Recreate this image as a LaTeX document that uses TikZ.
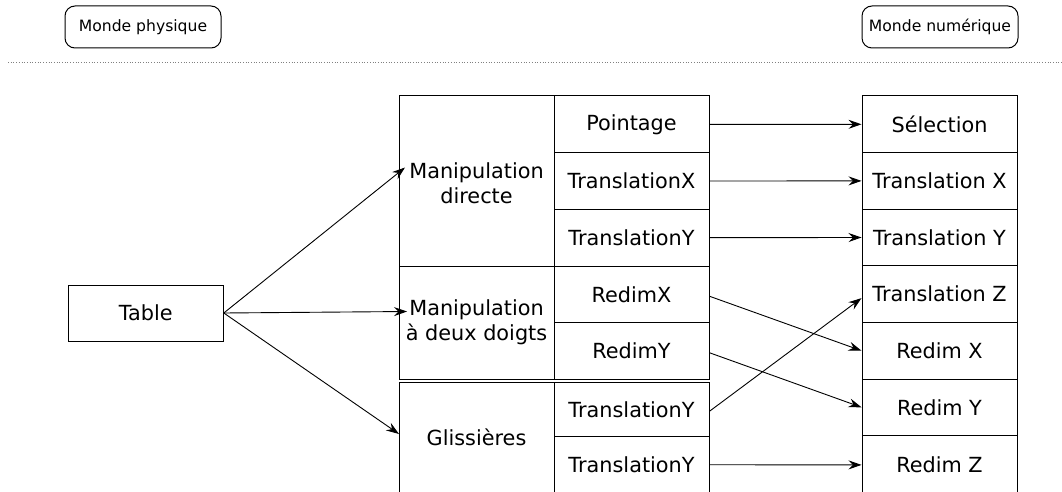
\documentclass[tikz,border=0pt]{standalone}
\usepackage{fontspec}
\setmainfont{DejaVu Sans}
\usetikzlibrary{arrows.meta}
\begin{document}
\begin{tikzpicture}[x=1pt,y=-1pt,
  cell/.style={draw, line width=1pt, minimum width=155pt, inner sep=0pt, align=center, font=\fontsize{20.8}{25}\selectfont},
  world/.style={draw, line width=1pt, rounded corners=10pt, minimum width=156pt, minimum height=42pt, inner sep=0pt, font=\fontsize{15.6}{18}\selectfont},
  link/.style={line width=0.9pt, -{Stealth[length=13pt,width=9pt,inset=4.5pt]}}]
\useasboundingbox (0,0) rectangle (1062,492);
\clip (0,0) rectangle (1062,492);
% header
\node[world] (phys) at (143,27) {Monde physique};
\node[world] (num) at (940,27) {Monde numérique};
\coordinate (sepL) at (8,62);
\coordinate (sepR) at (1062,62);
\draw[dotted, line width=0.7pt, gray] (sepL) -- (sepR);
% table
\node[cell, minimum height=56pt] (table) at (145.8,313) {Table};
% middle-left column
\node[cell, minimum height=170pt] (md) at (476.5,181) {};
\node[cell, draw=none] (mdt) at (476.5,183) {Manipulation\\directe};
\node[cell, minimum height=113pt] (m2) at (476.5,322.5) {Manipulation\\à deux doigts};
\node[cell, minimum height=110pt] (gl) at (476.5,437.5) {Glissières};
% middle-right column
\node[cell, minimum height=56.67pt] (pt) at (631.5,124.33) {Pointage};
\node[cell, minimum height=56.67pt] (tx) at (631.5,181) {TranslationX};
\node[cell, minimum height=56.67pt] (ty) at (631.5,237.67) {TranslationY};
\node[cell, minimum height=56.5pt] (rx) at (631.5,294.25) {RedimX};
\node[cell, minimum height=56.5pt] (ry) at (631.5,350.75) {RedimY};
\node[cell, minimum height=53.5pt] (ty2) at (631.5,409.25) {TranslationY};
\node[cell, minimum height=56.5pt] (ty3) at (631.5,464.25) {TranslationY};
% right column
\node[cell, minimum height=56.6pt] (sel) at (939.5,124.3) {Sélection};
\node[cell, minimum height=56.6pt] (tX) at (939.5,180.9) {Translation X};
\node[cell, minimum height=56.6pt] (tY) at (939.5,237.5) {Translation Y};
\node[cell, minimum height=56.6pt] (tZ) at (939.5,294.1) {Translation Z};
\node[cell, minimum height=56.6pt] (rX) at (939.5,350.7) {Redim X};
\node[cell, minimum height=56.6pt] (rY) at (939.5,407.3) {Redim Y};
\node[cell, minimum height=57.6pt] (rZ) at (939.5,464.4) {Redim Z};
% arrows from table
\coordinate (a1) at (405,167.5);
\coordinate (a2) at (407,311.5);
\coordinate (a3) at (399,434);
\draw[link] (table.east) -- (a1);
\draw[link] (table.east) -- (a2);
\draw[link] (table.east) -- (a3);
% mapping arrows
\draw[link] (pt.east) -- (sel.west);
\draw[link] (tx.east) -- (tX.west);
\draw[link] (ty.east) -- (tY.west);
\draw[link] ([yshift=-2pt]rx.east) -- (rX.west);
\draw[link] ([yshift=-2pt]ry.east) -- (rY.west);
\draw[link] ([yshift=-2pt]ty2.east) -- ([yshift=-4pt]tZ.west);
\draw[link] ([yshift=-0.5pt]ty3.east) -- ([yshift=-0.5pt]rZ.west);
\end{tikzpicture}
\end{document}
